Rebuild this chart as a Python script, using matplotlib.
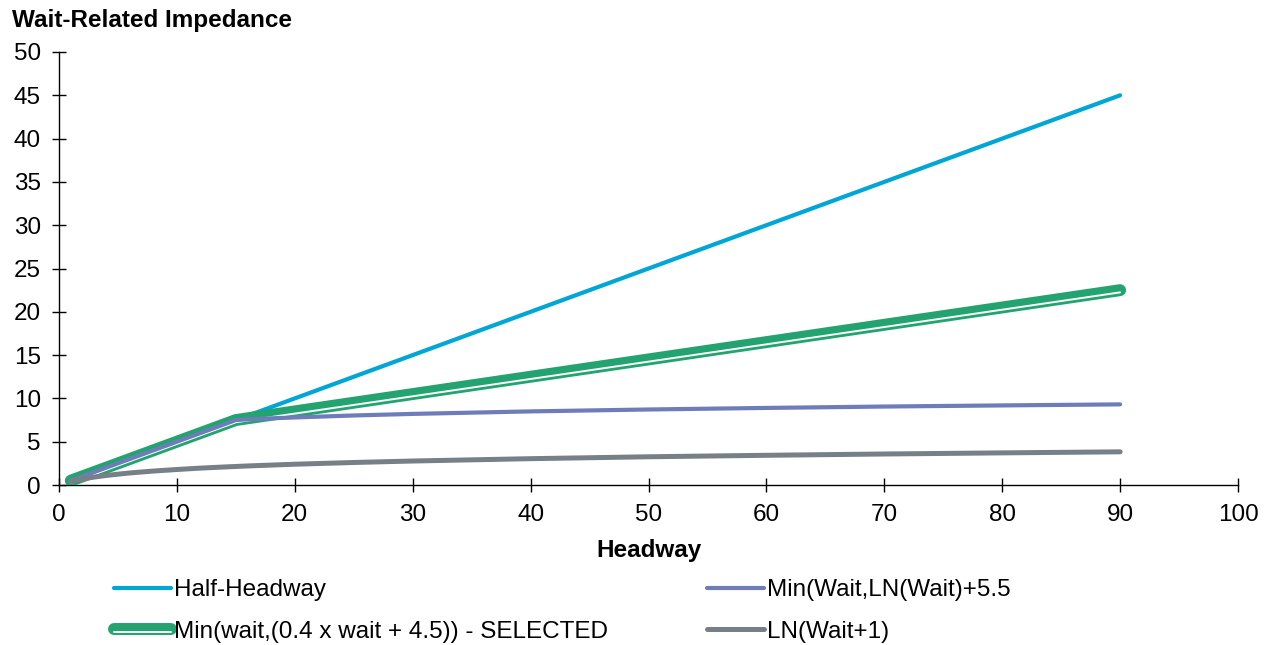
import matplotlib
matplotlib.use("Agg")
import matplotlib.pyplot as plt
import matplotlib.patheffects as pe

plt.rcParams['font.family'] = ['Liberation Sans', 'DejaVu Sans']

# Headway (minutes) and the wait-related impedance for each formulation
headway = [1, 2, 3, 4, 5, 6, 8, 10, 12, 14, 15, 16, 18, 20, 25, 30, 40, 50, 60, 70, 80, 90]
half_headway = [0.5, 1, 1.5, 2, 2.5, 3, 4, 5, 6, 7, 7.5, 8, 9, 10, 12.5, 15, 20, 25, 30, 35, 40, 45]
min_ln_wait = [0.5, 1, 1.5, 2, 2.5, 3, 4, 5, 6, 7, 7.5, 7.58, 7.7, 7.8, 8.03, 8.21, 8.5, 8.72, 8.9, 9.06, 9.19, 9.31]
min_linear = [0.5, 1, 1.5, 2, 2.5, 3, 4, 5, 6, 7, 7.5, 7.7, 8.1, 8.5, 9.5, 10.5, 12.5, 14.5, 16.5, 18.5, 20.5, 22.5]
ln_wait_plus1 = [0.41, 0.69, 0.92, 1.1, 1.25, 1.39, 1.61, 1.79, 1.95, 2.08, 2.14, 2.2, 2.3, 2.4, 2.6, 2.77, 3.04, 3.26, 3.43, 3.58, 3.71, 3.83]

labels = ["Half-Headway", "Min(wait,(0.4 x wait + 4.5)) - SELECTED",
          "Min(Wait,LN(Wait)+5.5", "LN(Wait+1)"]

BLUE = "#00A6D6"
GREEN = "#23A36F"
PURPLE = "#6E7DBA"
GREY = "#788087"
FS = 17.5

fig = plt.figure(figsize=(12.69, 6.45), dpi=100)
ax = fig.add_axes([59 / 1269, 1 - 485 / 645, (1238 - 59) / 1269, (485 - 52) / 645])

l_half, = ax.plot(headway, half_headway, color=BLUE, lw=3.0, solid_capstyle='round', zorder=2)
l_sel, = ax.plot(headway, min_linear, color=GREEN, lw=8.6, solid_capstyle='round', zorder=3,
                 path_effects=[pe.Stroke(linewidth=8.6, foreground=GREEN),
                               pe.Stroke(linewidth=1.4, foreground='white', offset=(0, -1.6))])
l_min, = ax.plot(headway, min_ln_wait, color=PURPLE, lw=3.0, solid_capstyle='round', zorder=4)
l_ln, = ax.plot(headway, ln_wait_plus1, color=GREY, lw=3.6, solid_capstyle='round', zorder=5)

ax.set_xlim(0, 100)
ax.set_ylim(0, 50)
ax.set_xticks(range(0, 101, 10))
ax.set_yticks(range(0, 51, 5))
for s in ('top', 'right'):
    ax.spines[s].set_visible(False)
for s in ('left', 'bottom'):
    ax.spines[s].set_linewidth(1.0)
    ax.spines[s].set_color('black')
ax.tick_params(direction='inout', length=10, width=1.0, labelsize=FS, colors='black')
ax.tick_params(axis='x', pad=9)
ax.tick_params(axis='y', pad=8)

ax.set_xlabel("Headway", fontsize=FS, fontweight='bold', labelpad=9)
fig.text(12 / 1269, 1 - 20 / 645, "Wait-Related Impedance", fontsize=FS, fontweight='bold',
         ha='left', va='center')

fig.legend([l_half, l_sel, l_min, l_ln], labels, ncol=2, loc='upper left',
           bbox_to_anchor=(114 / 1269, 1 - 579 / 645), frameon=False, fontsize=FS,
           handlelength=2.35, handletextpad=0.1, columnspacing=4.1, labelspacing=0.82,
           borderpad=0, borderaxespad=0)

fig.savefig("out.png", dpi=100)
